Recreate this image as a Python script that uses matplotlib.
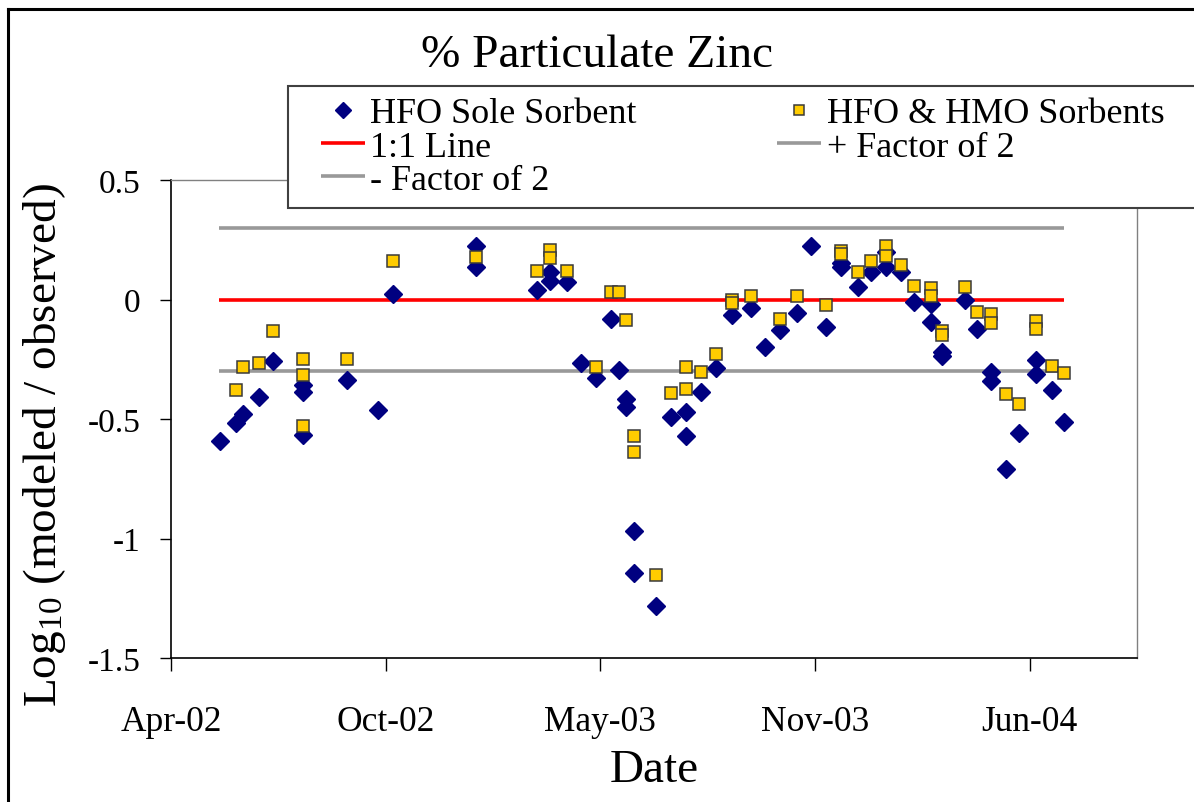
import matplotlib
matplotlib.use('Agg')
import matplotlib.pyplot as plt
import matplotlib.dates as mdates
from matplotlib.patches import Rectangle
from matplotlib.lines import Line2D
import datetime as dt

plt.rcParams['font.family'] = ['Liberation Serif', 'DejaVu Serif']
plt.rcParams['mathtext.fontset'] = 'custom'
plt.rcParams['mathtext.rm'] = 'Liberation Serif'
plt.rcParams['mathtext.it'] = 'Liberation Serif:italic'
plt.rcParams['axes.unicode_minus'] = False

# ---------------- data ----------------
hfo_dates = ["2002-05-20", "2002-06-04", "2002-06-10", "2002-06-25", "2002-07-08",
             "2002-08-05", "2002-08-05", "2002-08-05", "2002-09-15", "2002-10-14",
             "2002-10-28", "2003-01-13", "2003-01-13", "2003-03-11", "2003-03-23",
             "2003-03-23", "2003-04-08", "2003-04-21", "2003-05-05", "2003-05-19",
             "2003-05-26", "2003-06-02", "2003-06-02", "2003-06-09", "2003-06-09",
             "2003-06-30", "2003-07-14", "2003-07-28", "2003-07-28", "2003-08-11",
             "2003-08-25", "2003-09-09", "2003-09-26", "2003-10-09", "2003-10-23",
             "2003-11-08", "2003-11-21", "2003-12-05", "2003-12-19", "2003-12-19",
             "2004-01-04", "2004-01-16", "2004-01-30", "2004-01-30", "2004-02-13",
             "2004-02-25", "2004-03-12", "2004-03-12", "2004-03-22", "2004-03-22",
             "2004-04-13", "2004-04-24", "2004-05-07", "2004-05-07", "2004-05-21",
             "2004-06-02", "2004-06-18", "2004-06-18", "2004-07-03", "2004-07-14"]
hfo_vals = [-0.593, -0.517, -0.479, -0.409, -0.256,
            -0.358, -0.388, -0.567, -0.337, -0.462,
            0.023, 0.223, 0.135, 0.041, 0.114,
            0.079, 0.072, -0.266, -0.330, -0.082,
            -0.295, -0.416, -0.449, -0.970, -1.146,
            -1.281, -0.493, -0.472, -0.570, -0.386,
            -0.288, -0.064, -0.037, -0.197, -0.128,
            -0.058, 0.223, -0.116, 0.151, 0.135,
            0.054, 0.114, 0.200, 0.135, 0.114,
            -0.009, -0.019, -0.096, -0.218, -0.235,
            -0.001, -0.123, -0.305, -0.340, -0.710,
            -0.560, -0.253, -0.312, -0.377, -0.511]

hmo_dates = ["2002-06-04", "2002-06-10", "2002-06-25", "2002-07-08", "2002-08-05",
             "2002-08-05", "2002-08-05", "2002-09-15", "2002-10-28", "2003-01-13",
             "2003-03-11", "2003-03-23", "2003-03-23", "2003-04-08", "2003-05-05",
             "2003-05-19", "2003-05-26", "2003-06-02", "2003-06-09", "2003-06-09",
             "2003-06-30", "2003-07-14", "2003-07-28", "2003-07-28", "2003-08-11",
             "2003-08-25", "2003-09-09", "2003-09-09", "2003-09-26", "2003-10-23",
             "2003-11-08", "2003-12-05", "2003-12-19", "2003-12-19", "2004-01-04",
             "2004-01-16", "2004-01-30", "2004-01-30", "2004-02-13", "2004-02-25",
             "2004-03-12", "2004-03-12", "2004-03-22", "2004-03-22", "2004-04-13",
             "2004-04-24", "2004-05-07", "2004-05-07", "2004-05-21", "2004-06-02",
             "2004-06-18", "2004-06-18", "2004-07-03", "2004-07-14"]
hmo_vals = [-0.379, -0.281, -0.267, -0.130, -0.249,
            -0.315, -0.529, -0.249, 0.160, 0.179,
            0.118, 0.207, 0.172, 0.118, -0.281,
            0.030, 0.030, -0.084, -0.572, -0.637,
            -1.151, -0.391, -0.284, -0.374, -0.302,
            -0.228, -0.001, -0.015, 0.016, -0.082,
            0.016, -0.023, 0.202, 0.190, 0.114,
            0.162, 0.225, 0.181, 0.144, 0.058,
            0.047, 0.016, -0.130, -0.147, 0.054,
            -0.051, -0.061, -0.098, -0.395, -0.437,
            -0.089, -0.123, -0.277, -0.308]

line_dates = ["2002-05-19", "2004-07-14"]
one_to_one = [0.0, 0.0]
plus_factor2 = [0.301, 0.301]
minus_factor2 = [-0.301, -0.301]

x_start = "2002-04-04"
x_span_days = 900
tick_step_days = 200
y_ticks = [-1.5, -1.0, -0.5, 0.0, 0.5]
y_tick_labels = ["-1.5", "-1", "-0.5", "0", "0.5"]

# ---------------- plot ----------------
def to_dt(s):
    return dt.datetime.strptime(s, "%Y-%m-%d")

W, H = 1194, 803
fig = plt.figure(figsize=(W / 100, H / 100), dpi=100)
ax = fig.add_axes([171 / W, 1 - 659 / H, (1137 - 171) / W, (659 - 181) / H])

lx = [to_dt(s) for s in line_dates]
h11, = ax.plot(lx, one_to_one, color='#FF0000', lw=2.6, zorder=1,
               solid_capstyle='butt', label='1:1 Line')
hp, = ax.plot(lx, plus_factor2, color='#999999', lw=2.6, zorder=1,
              solid_capstyle='butt', label='+ Factor of 2')
hm, = ax.plot(lx, minus_factor2, color='#999999', lw=2.6, zorder=1,
              solid_capstyle='butt', label='- Factor of 2')
hh, = ax.plot([to_dt(s) for s in hfo_dates], hfo_vals, ls='none', marker='D',
              ms=9, color='#000080', mec='#000080', zorder=3,
              label='HFO Sole Sorbent')
hs, = ax.plot([to_dt(s) for s in hmo_dates], hmo_vals, ls='none', marker='s',
              ms=8.3, mfc='#FFCC00', mec='#3a3a3a', mew=1.1, zorder=4,
              label='HFO & HMO Sorbents')

x0 = to_dt(x_start)
ax.set_xlim(x0, x0 + dt.timedelta(days=x_span_days))
ax.set_xticks([x0 + dt.timedelta(days=k) for k in range(0, x_span_days, tick_step_days)])
ax.xaxis.set_major_formatter(mdates.DateFormatter('%b-%y'))
ax.set_ylim(-1.5, 0.5)
ax.set_yticks(y_ticks)
ax.set_yticklabels(y_tick_labels)

for side in ['top', 'right']:
    ax.spines[side].set_color('#808080')
    ax.spines[side].set_linewidth(1.0)
for side in ['left', 'bottom']:
    ax.spines[side].set_color('#000000')
    ax.spines[side].set_linewidth(1.2)
ax.tick_params(axis='y', direction='out', length=8, width=1, pad=14,
               labelsize=24, colors='#000000')
ax.tick_params(axis='x', direction='out', length=9, width=1, pad=25,
               labelsize=25.5, colors='#000000')

fig.text(0.5, 1 - 56 / H, '% Particulate Zinc', ha='center', va='center', fontsize=34)
fig.text(45 / W, 1 - 445 / H, 'Log$_{10}$ (modeled / observed)', rotation=90,
         ha='center', va='center', fontsize=34)
fig.text(654 / W, 1 - 771 / H, 'Date', ha='center', va='center', fontsize=34)

# legend box (extends past the right edge of the picture)
fig.add_artist(Rectangle((288 / W, 1 - 209 / H), 1.0, (209 - 87) / H,
                         transform=fig.transFigure, facecolor='white',
                         edgecolor='#404040', lw=1.5, zorder=2, clip_on=False))
leg = fig.legend(handles=[hh, h11, hm, hs, hp], ncol=2, loc='upper left',
                 bbox_to_anchor=(321 / W, 1 - 98 / H), bbox_transform=fig.transFigure,
                 frameon=False, prop={'size': 26}, borderpad=0, handlelength=1.22,
                 handletextpad=0.14, columnspacing=3.9, labelspacing=0.0,
                 borderaxespad=0, markerscale=0.9)
leg.set_zorder(5)

# outer chart frame (left and top edges visible)
fig.add_artist(Line2D([8 / W, 8 / W], [0, 1 - 10 / H], transform=fig.transFigure,
                      color='black', lw=2.2, solid_capstyle='projecting'))
fig.add_artist(Line2D([8 / W, 1.0], [1 - 10 / H, 1 - 10 / H], transform=fig.transFigure,
                      color='black', lw=2.2, solid_capstyle='projecting'))

fig.savefig('out.png', dpi=100)
